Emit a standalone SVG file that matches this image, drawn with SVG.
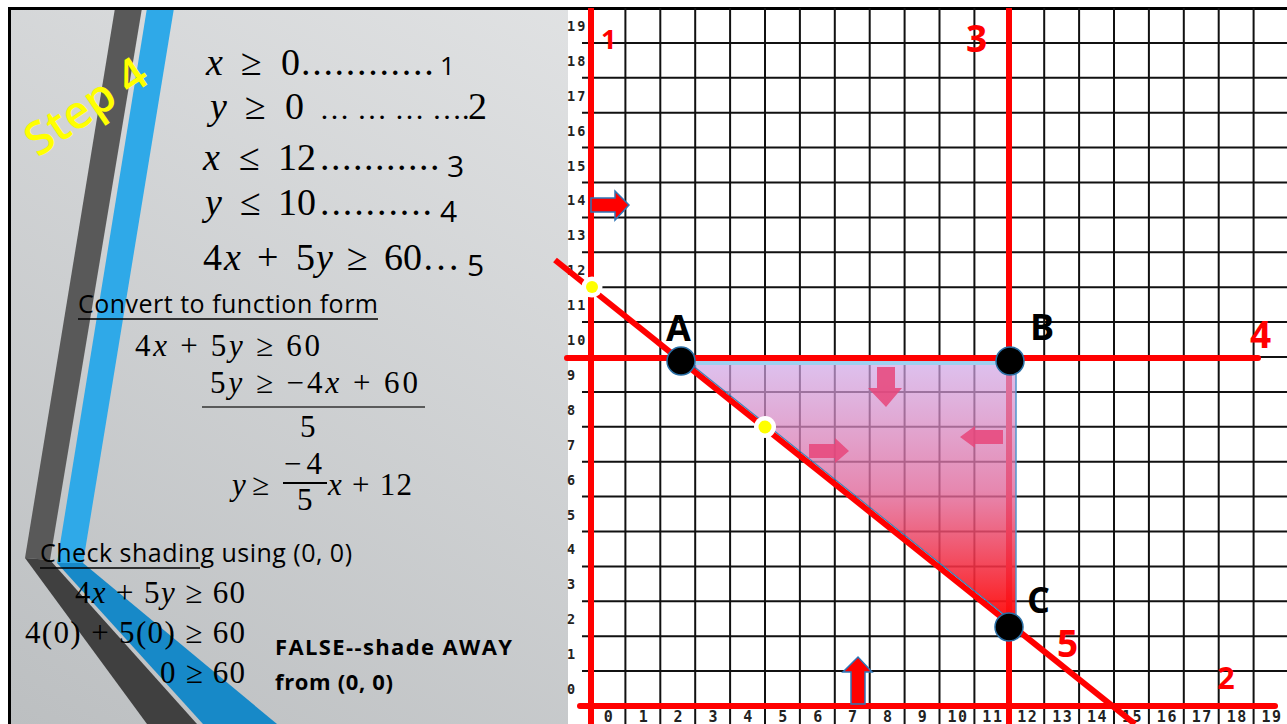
<svg xmlns="http://www.w3.org/2000/svg" width="1287" height="724" viewBox="0 0 1287 724">
<defs>
<linearGradient id="bg" x1="1" y1="0" x2="0" y2="1"><stop offset="0" stop-color="#eeeff0"/><stop offset="1" stop-color="#bcbfc1"/></linearGradient>
<linearGradient id="shade" x1="0" y1="0" x2="0" y2="1"><stop offset="0" stop-color="#cfa6e6" stop-opacity="0.7"/><stop offset="0.5" stop-color="#e06a9c" stop-opacity="0.8"/><stop offset="1" stop-color="#ff0a0a" stop-opacity="0.95"/></linearGradient>
<style>
.eq{font-family:"Liberation Serif",serif;font-size:38px;fill:#000}
.m2{font-family:"Liberation Serif",serif;font-size:31px;fill:#000}
.i{font-style:italic}
.c{font-family:"Open Sans",sans-serif}
.tx{font-family:"Open Sans",sans-serif;font-size:25px;fill:#000}
.bt{font-family:"Open Sans",sans-serif;font-size:22px;font-weight:bold;fill:#000}
.grid{stroke:#111;stroke-width:2;fill:none}
.red{stroke:#ff0000;stroke-width:6;fill:none}
.lbl{font-family:"DejaVu Sans Mono",monospace;font-weight:bold;font-size:13.5px;fill:#222;letter-spacing:2px}
.xl{font-family:"DejaVu Sans Mono",monospace;font-weight:bold;font-size:15px;fill:#222;letter-spacing:1.5px;text-anchor:middle}
.rl{font-family:"Open Sans",sans-serif;font-weight:bold;fill:#ff0000}
.bl{font-family:"Open Sans",sans-serif;font-weight:bold;fill:#000;font-size:36px}
.pt{fill:#000;stroke:#2a6fa5;stroke-width:1.5}
.ar{fill:#ff0000;stroke:#2e75b6;stroke-width:1.5}
.pa{fill:#e8457a;fill-opacity:0.85}
.ul{stroke:#000;stroke-width:1.5}
</style>
</defs>
<rect x="0" y="0" width="1287" height="724" fill="#ffffff"/>
<g id="slide">
<rect x="9" y="8" width="1278" height="716" fill="url(#bg)"/>
<polygon points="115,8 142,8 50,560 25,558" fill="#595959"/>
<polygon points="25,558 50,560 197,724 147,724" fill="#404040"/>
<polygon points="147,8 174,8 83,563 57,563" fill="#2fa9e8"/>
<polygon points="57,563 83,563 277,724 203,724" fill="#1789c8"/>
<rect x="568" y="9" width="719" height="715" fill="#ffffff"/>
<path d="M9.5,724 V8.5 H1287" stroke="#000" stroke-width="3" fill="none"/>
</g>
<g id="step-title">
<text x="38" y="158" transform="rotate(-34 38 158)" font-family="Open Sans, sans-serif" font-weight="600" font-size="46" fill="#ffff00">Step 4</text>
</g>
<g id="constraints">
<text class="eq" y="75"><tspan x="206" class="i">x</tspan><tspan x="241">≥</tspan><tspan x="281">0</tspan><tspan x="301" letter-spacing="1.7">............</tspan><tspan x="440" class="c" font-size="26">1</tspan></text>
<text class="eq" y="119"><tspan x="210" class="i">y</tspan><tspan x="245">≥</tspan><tspan x="285">0</tspan><tspan x="312" font-size="30"> … … … ….</tspan><tspan x="468">2</tspan></text>
<text class="eq" y="170"><tspan x="203" class="i">x</tspan><tspan x="239">≤</tspan><tspan x="278">12</tspan><tspan x="320" letter-spacing="1.5">...........</tspan><tspan x="447" y="177" class="c" font-size="30">3</tspan></text>
<text class="eq" y="215"><tspan x="205" class="i">y</tspan><tspan x="240">≤</tspan><tspan x="278">10</tspan><tspan x="320" letter-spacing="1.9">..........</tspan><tspan x="440" y="222" class="c" font-size="30">4</tspan></text>
<text class="eq" y="270"><tspan x="203">4</tspan><tspan x="224" class="i">x</tspan><tspan x="257">+</tspan><tspan x="296">5</tspan><tspan x="316" class="i">y</tspan><tspan x="347">≥</tspan><tspan x="384">60</tspan><tspan x="422">…</tspan><tspan x="467" y="276" class="c" font-size="30">5</tspan></text>
</g>
<g id="function-form">
<text class="tx" x="78" y="313" font-size="26" textLength="300">Convert to function form</text>
<line class="ul" x1="78" y1="319" x2="378" y2="319"/>
<text class="m2" x="135" y="356" textLength="185">4<tspan class="i">x</tspan> + 5<tspan class="i">y</tspan> ≥ 60</text>
<text class="m2" x="210" y="393" textLength="208">5<tspan class="i">y</tspan> ≥ −4<tspan class="i">x</tspan> + 60</text>
<line x1="202" y1="407" x2="425" y2="407" stroke="#333" stroke-width="1.5"/>
<text class="m2" x="300" y="437" font-size="29">5</text>
<text class="m2" y="495"><tspan x="232" class="i">y</tspan><tspan x="252">≥</tspan></text>
<text class="m2" x="284" y="474" font-size="29" textLength="38">−4</text>
<line x1="283" y1="483" x2="327" y2="483" stroke="#000" stroke-width="2"/>
<text class="m2" x="297" y="510">5</text>
<text class="m2" x="328" y="495" textLength="84"><tspan class="i">x</tspan> + 12</text>
</g>
<g id="check-shading">
<text class="tx" x="40" y="562" textLength="312">Check shading using (0, 0)</text>
<line class="ul" x1="40" y1="568" x2="200" y2="568"/>
<text class="m2" x="75" y="603" textLength="170">4<tspan class="i">x</tspan> + 5<tspan class="i">y</tspan> ≥ 60</text>
<text class="m2" x="25" y="643" textLength="220">4(0) + 5(0) ≥ 60</text>
<text class="m2" x="160" y="683" textLength="85">0 ≥ 60</text>
<text class="bt" x="275" y="655" textLength="237">FALSE--shade AWAY</text>
<text class="bt" x="275" y="690" textLength="118">from (0, 0)</text>
</g>
<g id="grid">
<path class="grid" d="M625.4,8V724M660.3,8V724M695.2,8V724M730.1,8V724M765,8V724M799.9,8V724M834.8,8V724M869.7,8V724M904.6,8V724M939.5,8V724M974.4,8V724M1044.2,8V724M1079.1,8V724M1114,8V724M1148.9,8V724M1183.8,8V724M1218.7,8V724M1253.6,8V724"/>
<path class="grid" d="M582,671.1H1287M582,636.2H1287M582,601.3H1287M582,566.4H1287M582,531.5H1287M582,496.6H1287M582,461.7H1287M582,426.8H1287M582,391.9H1287M582,357H1287M582,322.1H1287M582,287.2H1287M582,252.3H1287M582,217.4H1287M582,182.5H1287M582,147.6H1287M582,112.7H1287M582,77.8H1287M582,42.9H1287"/>
</g>
<g id="y-labels" class="lbl">
<text x="567" y="694">0</text><text x="567" y="659">1</text><text x="567" y="624">2</text><text x="567" y="589">3</text><text x="567" y="554">4</text><text x="567" y="519.5">5</text><text x="567" y="484.5">6</text><text x="567" y="449.5">7</text><text x="567" y="414.5">8</text><text x="567" y="380">9</text><text x="567" y="345">10</text><text x="567" y="310">11</text><text x="567" y="275">12</text><text x="567" y="240">13</text><text x="567" y="205">14</text><text x="567" y="170.5">15</text><text x="567" y="135.5">16</text><text x="567" y="100.5">17</text><text x="567" y="65.5">18</text><text x="567" y="31">19</text>
</g>
<g id="x-labels" class="xl">
<text x="609" y="722">0</text><text x="643.9" y="722">1</text><text x="678.8" y="722">2</text><text x="713.7" y="722">3</text><text x="748.6" y="722">4</text><text x="783.5" y="722">5</text><text x="818.4" y="722">6</text><text x="853.3" y="722">7</text><text x="888.2" y="722">8</text><text x="923.1" y="722">9</text><text x="958" y="722">10</text><text x="992.9" y="722">11</text><text x="1027.8" y="722">12</text><text x="1062.7" y="722">13</text><text x="1097.6" y="722">14</text><text x="1132.5" y="722">15</text><text x="1167.4" y="722">16</text><text x="1202.3" y="722">17</text><text x="1237.2" y="722">18</text><text x="1272.1" y="722">19</text>
</g>
<g id="connectors">
<line id="line-1" class="red" x1="591" y1="8" x2="591" y2="724"/>
<line id="line-2" class="red" x1="580" y1="706" x2="1275" y2="706" stroke-linecap="round"/>
<line id="line-3" class="red" x1="1009" y1="8" x2="1009" y2="724"/>
</g>
<g id="feasible-region">
<polygon points="690,363 1016,363 1016,615 1007,617" fill="url(#shade)"/>
<line x1="690" y1="363" x2="1012" y2="363" stroke="#9fd0f0" stroke-width="4"/>
<line x1="1016" y1="363" x2="1016" y2="615" stroke="#4f96cc" stroke-width="1.5"/>
</g>
<g id="connectors-top">
<line id="line-4" class="red" x1="567" y1="358" x2="1258" y2="358" stroke-linecap="round"/>
<line id="line-5" class="red" x1="555" y1="260" x2="1135" y2="724"/>
<line x1="692" y1="365" x2="1007" y2="617" stroke="#3c7fb8" stroke-width="1.2"/>
</g>
<g id="arrows">
<polygon class="ar" points="591,198 615,198 615,191 629,205 615,220 615,212 591,212"/>
<polygon class="ar" points="851,704 851,672 843,672 858,657 872,672 865,672 865,704"/>
<polygon class="pa" points="877,367 895,367 895,388 902,388 886,407 868,388 877,388"/>
<polygon class="pa" points="809,444 835,444 835,438 849,451 835,463 835,458 809,458"/>
<polygon class="pa" points="1003,430 975,430 975,426 960,437 975,448 975,444 1003,444"/>
</g>
<g id="intercepts">
<circle cx="592" cy="287" r="10.5" fill="#ffffff"/><circle cx="592" cy="287" r="6" fill="#ffff00"/>
<circle cx="765" cy="427" r="11" fill="#ffffff"/><circle cx="765" cy="427" r="6.5" fill="#ffff00"/>
</g>
<g id="vertex-A"><circle class="pt" cx="681" cy="361" r="14"/><text class="bl" x="666" y="341">A</text></g>
<g id="vertex-B"><circle class="pt" cx="1010" cy="361" r="14"/><text class="bl" x="1030" y="340">B</text></g>
<g id="vertex-C"><circle class="pt" cx="1009" cy="627" r="14"/><text class="bl" x="1027" y="613" font-size="35">C</text></g>
<g id="line-labels">
<text class="rl" x="601" y="49" font-size="27">1</text>
<text class="rl" x="966" y="52" font-size="37">3</text>
<text class="rl" x="1250" y="348" font-size="37">4</text>
<text class="rl" x="1057" y="657" font-size="37">5</text>
<text class="rl" x="1217" y="689" font-size="31">2</text>
</g>
</svg>
